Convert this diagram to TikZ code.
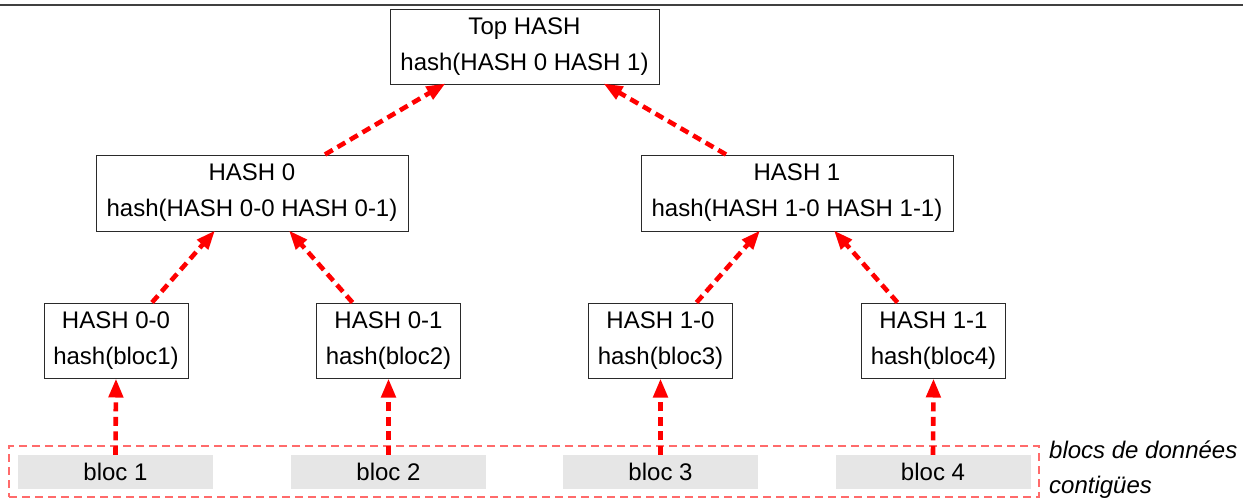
\documentclass[tikz,border=0pt]{standalone}
\usepackage{fontspec}
\setmainfont{Liberation Sans}
\usetikzlibrary{arrows.meta,calc}
\definecolor{blocgray}{HTML}{E6E6E6}
\definecolor{boxline}{HTML}{2A2A2A}
\definecolor{lightred}{HTML}{FF6B6B}
\begin{document}
\begin{tikzpicture}[x=1pt,y=-1pt,
  hashbox/.style={draw=boxline,line width=1pt,inner sep=0pt,align=center,
    font=\fontsize{24}{36}\selectfont},
  blocbox/.style={fill=blocgray,inner sep=0pt,minimum width=195pt,minimum height=34pt,
    font=\fontsize{24}{36}\selectfont},
  link/.style={draw=red,line width=4.6pt,dash pattern=on 9pt off 5.5pt,
    -{Triangle[length=19pt,width=14pt]}},
]
\useasboundingbox (0,0) rectangle (1243,498);
\draw[black!75,line width=2pt] (0,4.5) -- (1243,4.5);

\node[hashbox,minimum width=269pt,minimum height=75pt] (top) at (524.5,46.5) {Top HASH\\hash(HASH 0 HASH 1)};
\node[hashbox,minimum width=312pt,minimum height=76pt] (h0) at (252,193) {HASH 0\\hash(HASH 0-0 HASH 0-1)};
\node[hashbox,minimum width=312pt,minimum height=76pt] (h1) at (797,193) {HASH 1\\hash(HASH 1-0 HASH 1-1)};

\node[hashbox,minimum width=144pt,minimum height=75pt] (l00) at (116,340.5) {HASH 0-0\\hash(bloc1)};
\node[hashbox,minimum width=144pt,minimum height=75pt] (l01) at (388.5,340.5) {HASH 0-1\\hash(bloc2)};
\node[hashbox,minimum width=144pt,minimum height=75pt] (l10) at (660.5,340.5) {HASH 1-0\\hash(bloc3)};
\node[hashbox,minimum width=144pt,minimum height=75pt] (l11) at (933.5,340.5) {HASH 1-1\\hash(bloc4)};

\node[draw=lightred,line width=1.3pt,dash pattern=on 8pt off 5pt,inner sep=0pt,
  minimum width=1030pt,minimum height=51pt] (group) at (524,471.5) {};

\node[blocbox] (b1) at (115.5,472) {bloc 1};
\node[blocbox] (b2) at (388.5,472) {bloc 2};
\node[blocbox] (b3) at (660.5,472) {bloc 3};
\node[blocbox] (b4) at (933,472) {bloc 4};

\node[anchor=west,inner sep=0pt,align=left,font=\fontsize{24}{35}\selectfont\itshape] (lbl) at (1049,469.5) {blocs de données\\contigües};

\draw[link] (b1.north) -- (l00.south);
\draw[link] (b2.north) -- (l01.south);
\draw[link] (b3.north) -- (l10.south);
\draw[link] (b4.north) -- (l11.south);

\draw[link] ([xshift=36pt]l00.north) -- ([xshift=-37pt,yshift=1pt]h0.south);
\draw[link] ([xshift=-36pt]l01.north) -- ([xshift=37pt,yshift=1pt]h0.south);
\draw[link] ([xshift=36pt]l10.north) -- ([xshift=-37pt,yshift=1pt]h1.south);
\draw[link] ([xshift=-36pt]l11.north) -- ([xshift=37pt,yshift=1pt]h1.south);

\draw[link] ([xshift=73pt]h0.north) -- ([xshift=-79pt,yshift=1pt]top.south);
\draw[link] ([xshift=-71pt]h1.north) -- ([xshift=79pt,yshift=1pt]top.south);
\end{tikzpicture}
\end{document}
